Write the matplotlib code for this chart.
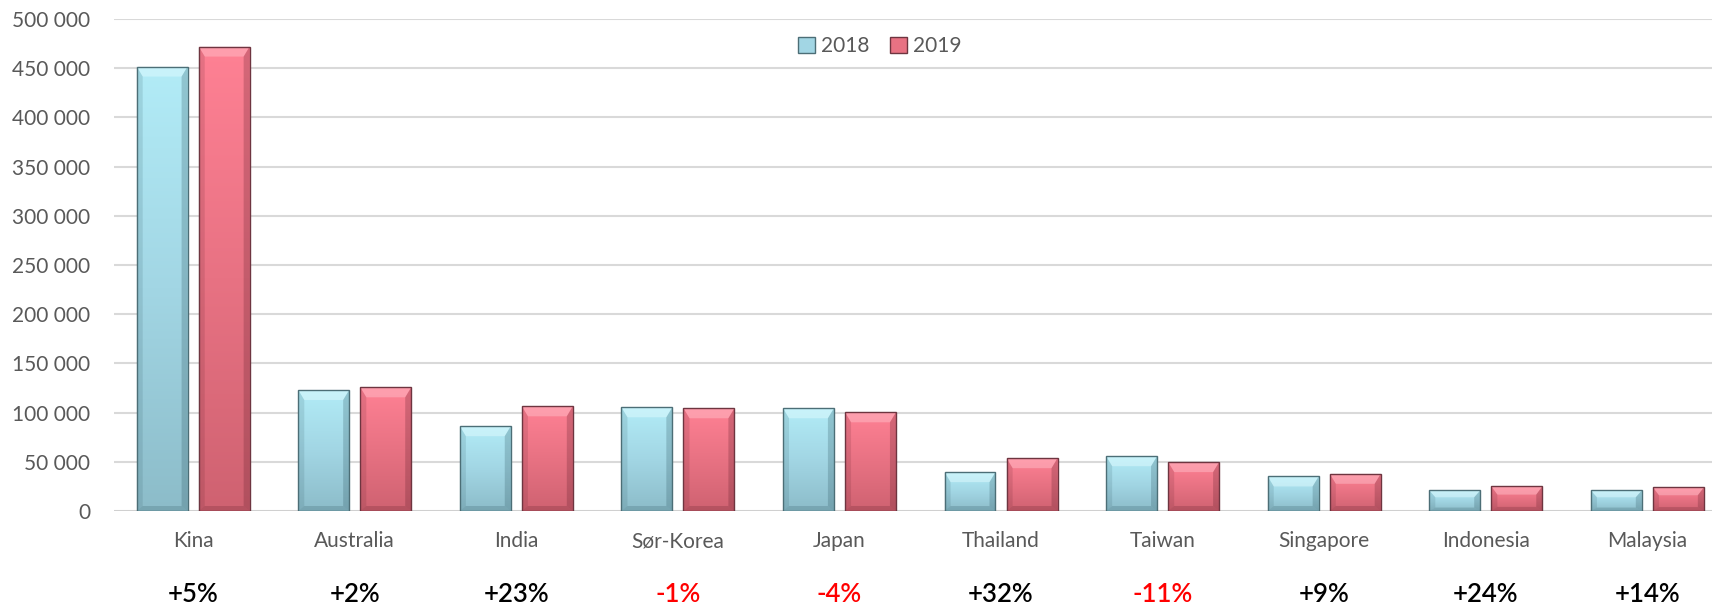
import numpy as np
import matplotlib
matplotlib.use('Agg')
import matplotlib.pyplot as plt
import matplotlib.transforms as mtransforms
from matplotlib.patches import Polygon, Patch
from matplotlib.colors import LinearSegmentedColormap

countries = ['Kina', 'Australia', 'India', 'Sør-Korea', 'Japan',
             'Thailand', 'Taiwan', 'Singapore', 'Indonesia', 'Malaysia']
v2018 = [451700, 123000, 86200, 105400, 104400, 39500, 55700, 35100, 20900, 20900]
v2019 = [472000, 125700, 106400, 104400, 100300, 53700, 49700, 37800, 25000, 24000]
changes = ['+5%', '+2%', '+23%', '-1%', '-4%', '+32%', '-11%', '+9%', '+24%', '+14%']
yticks = [0, 50000, 100000, 150000, 200000, 250000, 300000, 350000, 400000, 450000, 500000]

plt.rcParams['font.family'] = ['Lato', 'DejaVu Sans']

W, H = 1712, 606
fig = plt.figure(figsize=(W / 100, H / 100), dpi=100)
ax = fig.add_axes([114 / W, 1 - 511 / H, 1 - 114 / W, (511 - 19) / H])

x = np.arange(len(countries))
bw = 0.315
off = 0.192

# colours: bottom, middle, top
cm18 = LinearSegmentedColormap.from_list('c18', ['#8CBCC9', '#A2D6E4', '#B2ECF7'])
cm19 = LinearSegmentedColormap.from_list('c19', ['#CF6271', '#E87283', '#FF8194'])
grad = np.linspace(0, 1, 256).reshape(-1, 1)

px_x = (9.40 + 0.49) / (W - 114)   # data units per pixel, x
px_y = 500000 / (511 - 19)         # data units per pixel, y


def fancy_bars(xs, vals, cmap, edge, hi, lo):
    bars = ax.bar(xs, vals, bw, facecolor='none', edgecolor=edge, lw=1.0, zorder=4)
    for r in bars:
        x0, w, h = r.get_x(), r.get_width(), r.get_height()
        x1 = x0 + w
        im = ax.imshow(grad, cmap=cmap, origin='lower', aspect='auto',
                       extent=[x0, x1, 0, h], zorder=2.5)
        im.set_clip_path(r)
        bx = 6 * px_x
        by = min(10 * px_y, h / 3)
        bb = min(5 * px_y, h / 6)
        # top bevel
        ax.add_patch(Polygon([(x0, h), (x1, h), (x1 - bx, h - by), (x0 + bx, h - by)],
                             closed=True, facecolor=hi, edgecolor='none', alpha=0.45, zorder=3))
        # side bevels
        ax.add_patch(Polygon([(x0, h), (x0 + bx, h - by), (x0 + bx, bb), (x0, 0)],
                             closed=True, facecolor=lo, edgecolor='none', alpha=0.15, zorder=3))
        ax.add_patch(Polygon([(x1, h), (x1 - bx, h - by), (x1 - bx, bb), (x1, 0)],
                             closed=True, facecolor=lo, edgecolor='none', alpha=0.25, zorder=3))
        # bottom bevel
        ax.add_patch(Polygon([(x0, 0), (x1, 0), (x1 - bx, bb), (x0 + bx, bb)],
                             closed=True, facecolor=lo, edgecolor='none', alpha=0.22, zorder=3))
    return bars


fancy_bars(x - off, v2018, cm18, '#4C6E76', '#E6FCFF', '#2E5560')
fancy_bars(x + off, v2019, cm19, '#6E3540', '#FFC4CE', '#5A1C28')

ax.set_xlim(-0.49, 9.40)
ax.set_ylim(0, 500000)
ax.set_yticks(yticks)
ax.yaxis.set_major_formatter(plt.FuncFormatter(lambda v, p: f'{int(v):,}'.replace(',', ' ')))
ax.tick_params(axis='y', length=0, pad=17, labelsize=15, labelcolor='#595959')
ax.set_xticks([])
ax.yaxis.grid(True, color='#D9D9D9', lw=1.5)
ax.set_axisbelow(True)
for s in ax.spines.values():
    s.set_visible(False)
ax.axhline(0, color='#D0D0D0', lw=2, zorder=1)

trans = mtransforms.blended_transform_factory(ax.transData, fig.transFigure)
for i, (name, ch) in enumerate(zip(countries, changes)):
    ax.text(i, 1 - 541 / H, name, transform=trans, ha='center', va='center',
            fontsize=15, color='#595959')
    ax.text(i, 1 - 594 / H, ch, transform=trans, ha='center', va='center',
            fontsize=18.5, fontweight='semibold',
            color='#FF0000' if ch.startswith('-') else '#000000')

handles = [Patch(facecolor='#A2D6E4', edgecolor='#4C6E76', label='2018'),
           Patch(facecolor='#E87283', edgecolor='#6E3540', label='2019')]
fig.legend(handles=handles, loc='center', bbox_to_anchor=(880 / W, 1 - 46 / H), ncol=2,
           frameon=False, fontsize=15, handlelength=0.8, handleheight=0.8,
           handletextpad=0.3, columnspacing=1.0, labelcolor='#595959')

fig.savefig('out.png', dpi=100)
